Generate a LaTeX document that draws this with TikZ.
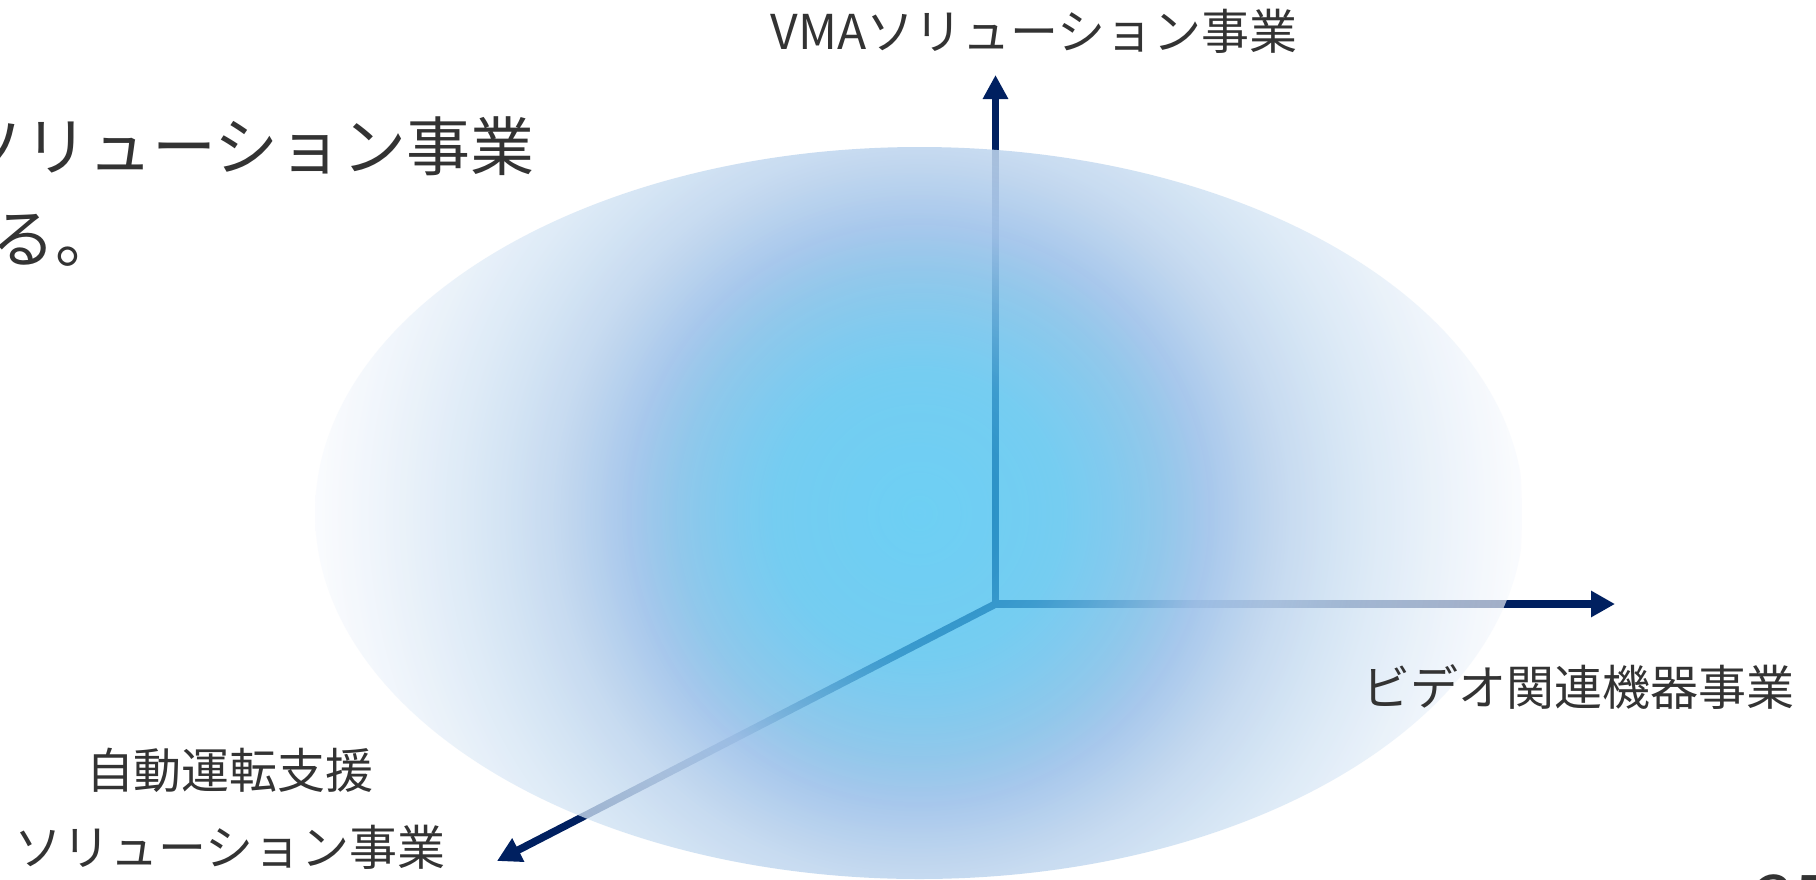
\documentclass[tikz,border=0pt]{standalone}
\usepackage{fontspec}
\setmainfont{Noto Sans CJK JP}
\usetikzlibrary{arrows.meta,fadings}
\definecolor{navy}{RGB}{0,32,96}
\definecolor{txt}{RGB}{51,51,51}
\definecolor{ca}{RGB}{42,186,239}
\definecolor{cb}{RGB}{79,191,238}
\definecolor{cc}{RGB}{133,194,233}
\definecolor{cd}{RGB}{163,197,235}
\definecolor{ce}{RGB}{190,213,238}
\definecolor{cf}{RGB}{206,225,243}
\definecolor{cg}{RGB}{248,250,254}
\pgfdeclareradialshading{bubble}{\pgfpoint{0bp}{0bp}}{color(0bp)=(ca); color(6bp)=(cb); color(10bp)=(cc); color(12bp)=(cd); color(15bp)=(ce); color(18bp)=(cf); color(25bp)=(cg); color(50bp)=(white)}
\pgfdeclareradialshading{bubblegray}{\pgfpoint{0bp}{0bp}}{color(0bp)=(white!68!black); color(6bp)=(white!78!black); color(10bp)=(white!90!black); color(12bp)=(white!95!black); color(15bp)=(white!88!black); color(18bp)=(white!78!black); color(25bp)=(white!65!black); color(50bp)=(white!65!black)}
\pgfdeclarefading{bubblefade}{\pgfuseshading{bubblegray}}
\begin{document}
\begin{tikzpicture}[x=1pt,y=-1pt,
  axisline/.style={draw=navy, line width=7.5pt},
  tipA/.style={-{Triangle[length=24pt,width=25pt]}},
  lbl/.style={text=txt, inner sep=0pt, font=\fontsize{48}{77}\selectfont},
  big/.style={text=txt, inner sep=0pt, font=\fontsize{64}{92}\selectfont}]
\fill[white] (0,0) rectangle (1816,879);
\useasboundingbox (0,0) rectangle (1816,879);
% axes
\coordinate (O) at (995.5,604);
\coordinate (ytip) at (995.5,75);
\coordinate (xtip) at (1615,604);
\coordinate (ztip) at (497,861);
\draw[axisline, {Triangle[length=24pt,width=24pt]}-{Triangle[length=24pt,width=25pt]}] (ytip) -- (O) -- (xtip);
\draw[axisline, tipA] (O) -- (ztip);
% gradient ellipse
\begin{scope}
\clip (919.5,513) ellipse [x radius=604.5, y radius=366];
\shade[shading=bubble, path fading=bubblefade] (919.5,513) circle [radius=604.5];
\end{scope}
% labels
\node[lbl, anchor=base] (vma) at (1034,49) {VMAソリューション事業};
\node[lbl, anchor=base] (video) at (1578,705) {ビデオ関連機器事業};
\node[lbl, align=center, anchor=center] (auto) at (230,809) {自動運転支援\\ソリューション事業};
\node[big, anchor=base west] (tl1) at (-40,170) {ソリューション事業};
\node[big, anchor=base west] (tl2) at (-9,262) {る。};
\node[text=txt, inner sep=0pt, font=\fontsize{70}{80}\selectfont, anchor=base west] (pg) at (1755,925) {35};
\end{tikzpicture}
\end{document}
